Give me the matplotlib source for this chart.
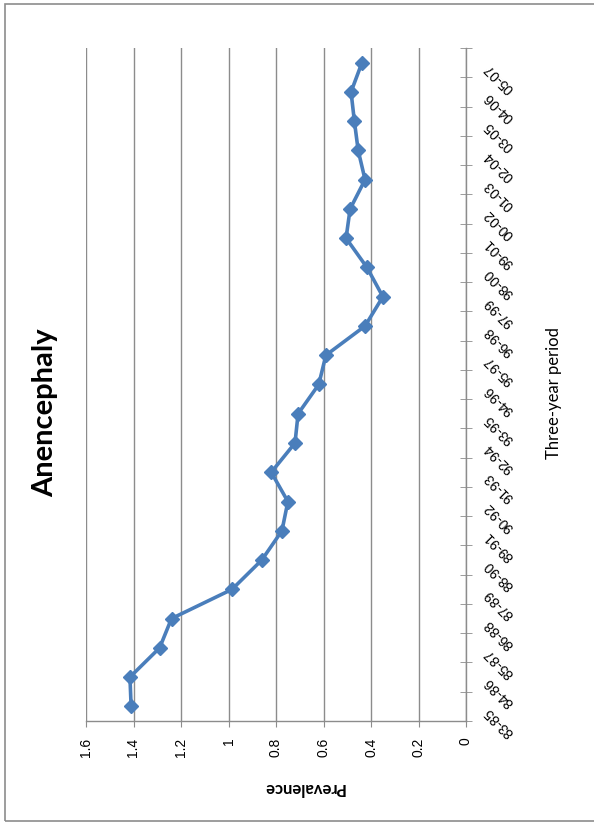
import numpy as np
import matplotlib
matplotlib.use("Agg")
import matplotlib.pyplot as plt
from matplotlib.patches import Rectangle

# three-year periods and anencephaly prevalence
periods = ['83-85', '84-86', '85-87', '86-88', '87-89', '88-90', '89-91', '90-92',
           '91-93', '92-94', '93-95', '94-96', '95-97', '96-98', '97-99', '98-00',
           '99-01', '00-02', '01-03', '02-04', '03-05', '04-06', '05-07']
prevalence = [1.41, 1.415, 1.29, 1.24, 0.985, 0.86, 0.775, 0.75,
              0.82, 0.72, 0.707, 0.62, 0.59, 0.425, 0.35, 0.417,
              0.505, 0.488, 0.425, 0.454, 0.47, 0.484, 0.438]
prev_ticks = [0, 0.2, 0.4, 0.6, 0.8, 1.0, 1.2, 1.4, 1.6]
prev_labels = ['0', '0.2', '0.4', '0.6', '0.8', '1', '1.2', '1.4', '1.6']

W, H = 594, 822
fig = plt.figure(figsize=(W / 100, H / 100), dpi=100)

# chart border
fig.patches.append(Rectangle((5 / W, 1 - 821 / H), 1.2, (821 - 4) / H,
                             transform=fig.transFigure, fill=False,
                             edgecolor='#8c8c8c', lw=1.2))

# chart is turned on its side: prevalence runs right to left, periods bottom to top
ax = fig.add_axes([86 / W, 1 - 721 / H, 380 / W, 673 / H])
pos = np.arange(len(periods))

ax.plot(prevalence, pos, color='#4A7EBB', lw=2.6, marker='D', ms=7.5,
        mfc='#4A7EBB', mec='#4A7EBB', zorder=3)

ax.set_xlim(1.6, 0)
ax.set_ylim(-0.5, len(periods) - 0.5)

grey = '#8c8c8c'
ax.set_xticks(prev_ticks)
ax.set_xticklabels(prev_labels, family='Liberation Sans', fontsize=10)
ax.xaxis.grid(True, color=grey, lw=1)
ax.set_axisbelow(True)
ax.tick_params(axis='x', direction='out', length=4.5, color=grey, pad=7.5,
               labelrotation=90)

for s in ['top', 'left']:
    ax.spines[s].set_visible(False)
for s in ['bottom', 'right']:
    ax.spines[s].set_color(grey)
    ax.spines[s].set_linewidth(1)

ax.yaxis.tick_right()
ax.set_yticks(pos)
ax.set_yticklabels(periods, family='Liberation Sans', fontsize=10)
ax.set_yticks(np.arange(-0.5, len(periods), 1), minor=True)
ax.tick_params(axis='y', which='major', length=0, pad=17)
ax.tick_params(axis='y', which='minor', direction='inout', length=8, color=grey)
plt.setp(ax.get_yticklabels(), rotation=135, rotation_mode='anchor',
         ha='right', va='baseline')

fig.text(304 / W, 1 - 788 / H, 'Prevalence', rotation=180, ha='center',
         va='center', family='Lato', fontweight='bold', fontsize=12)
fig.text(554 / W, 1 - 393 / H, 'Three-year period', rotation=90, ha='center',
         va='center', family='Lato', fontsize=12)
fig.text(45 / W, 1 - 413 / H, 'Anencephaly', rotation=90, ha='center',
         va='center', family='Lato', fontweight='bold', fontsize=21)

fig.savefig('out.png', dpi=100)
